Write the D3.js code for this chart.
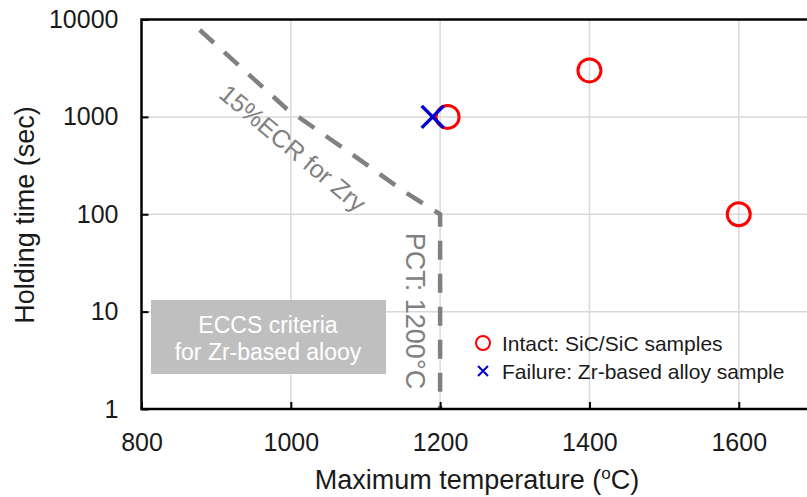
<!DOCTYPE html>
<html>
<head>
<meta charset="utf-8">
<script src="https://cdn.jsdelivr.net/npm/d3@7"></script>
<style>
	body { margin: 0; background: #fff; }
	svg { display: block; font-family: "Liberation Sans", Arial, sans-serif; }
</style>
</head>
<body>
<svg id="chart" width="807" height="497"></svg>
<script>
var xTicks = [800, 1000, 1200, 1400, 1600];
var yTicks = [1, 10, 100, 1000, 10000];

// intact SiC/SiC samples
var intactTemp = [1210, 1400, 1600];
var intactTime = [1000, 3000, 100];

// failed Zr-based alloy sample
var failTemp = [1190];
var failTime = [1000];

// ECCS criteria: 15%ECR curve then PCT 1200 C
var ecrTemp = [878, 995, 1070, 1150, 1200, 1200];
var ecrTime = [7800, 1200, 480, 175, 100, 1];

(function () {
	var svg = d3.select('#chart');
	var left = 141.5, top = 19.5, bottom = 409, right = 813.4;

	var x = d3.scaleLinear().domain([800, 1700]).range([left, right]);
	var y = d3.scaleLog().domain([1, 10000]).range([bottom, top]);

	// grid
	svg.append('g').selectAll('line')
		.data(xTicks.slice(1))
		.enter().append('line')
		.attr('x1', function (d) { return x(d); })
		.attr('x2', function (d) { return x(d); })
		.attr('y1', top).attr('y2', bottom)
		.attr('stroke', '#d9d9d9').attr('stroke-width', 1.5);
	svg.append('g').selectAll('line')
		.data(yTicks.slice(1, -1))
		.enter().append('line')
		.attr('y1', function (d) { return y(d); })
		.attr('y2', function (d) { return y(d); })
		.attr('x1', left).attr('x2', right)
		.attr('stroke', '#d9d9d9').attr('stroke-width', 1.5);

	// ECCS box
	svg.append('rect')
		.attr('x', 151).attr('y', 300).attr('width', 235).attr('height', 74)
		.attr('fill', '#bfbfbf');
	svg.append('text')
		.attr('x', 268).attr('y', 325)
		.attr('text-anchor', 'middle').attr('dominant-baseline', 'central')
		.attr('fill', '#fff').attr('font-size', 23)
		.text('ECCS criteria');
	svg.append('text')
		.attr('x', 268).attr('y', 352)
		.attr('text-anchor', 'middle').attr('dominant-baseline', 'central')
		.attr('fill', '#fff').attr('font-size', 23)
		.text('for Zr-based alooy');

	// criteria line
	var line = d3.line()
		.x(function (d) { return x(d[0]); })
		.y(function (d) { return y(d[1]); });
	svg.append('path')
		.datum(d3.zip(ecrTemp, ecrTime))
		.attr('d', line)
		.attr('fill', 'none')
		.attr('stroke', '#808080')
		.attr('stroke-width', 4.5)
		.attr('stroke-dasharray', '19,14');

	svg.append('text')
		.attr('transform', 'translate(293,148) rotate(40)')
		.attr('text-anchor', 'middle').attr('dominant-baseline', 'central')
		.attr('fill', '#808080').attr('font-size', 25)
		.text('15%ECR for Zry');
	svg.append('text')
		.attr('transform', 'translate(415,311) rotate(90)')
		.attr('text-anchor', 'middle').attr('dominant-baseline', 'central')
		.attr('fill', '#808080').attr('font-size', 27)
		.text('PCT: 1200°C');

	// markers
	svg.append('g').selectAll('circle')
		.data(d3.zip(intactTemp, intactTime))
		.enter().append('circle')
		.attr('cx', function (d) { return x(d[0]); })
		.attr('cy', function (d) { return y(d[1]); })
		.attr('r', 11.5)
		.attr('fill', 'none')
		.attr('stroke', '#ff0000')
		.attr('stroke-width', 3);
	svg.append('g').selectAll('path')
		.data(d3.zip(failTemp, failTime))
		.enter().append('path')
		.attr('d', function (d) {
			var cx = x(d[0]), cy = y(d[1]), s = 11;
			return 'M' + (cx - s) + ',' + (cy - s) + 'L' + (cx + s) + ',' + (cy + s) +
				'M' + (cx - s) + ',' + (cy + s) + 'L' + (cx + s) + ',' + (cy - s);
		})
		.attr('stroke', '#0000cc')
		.attr('stroke-width', 3.5);

	// axes
	var xAxis = svg.append('g')
		.attr('transform', 'translate(0,' + bottom + ')')
		.call(d3.axisBottom(x).tickValues(xTicks).tickSize(-7).tickPadding(24)
			.tickFormat(d3.format('d')));
	var yAxis = svg.append('g')
		.attr('transform', 'translate(' + left + ',0)')
		.call(d3.axisLeft(y).tickValues(yTicks).tickSize(-7).tickPadding(23)
			.tickFormat(d3.format('d')));
	[xAxis, yAxis].forEach(function (g) {
		g.select('.domain').remove();
		g.selectAll('line').attr('stroke', '#000').attr('stroke-width', 2);
		g.selectAll('text').attr('font-size', 25).attr('fill', '#1a1a1a')
			.attr('font-family', '"Liberation Sans", Arial, sans-serif');
	});

	// frame
	svg.append('rect')
		.attr('x', left).attr('y', top)
		.attr('width', right - left).attr('height', bottom - top)
		.attr('fill', 'none').attr('stroke', '#000').attr('stroke-width', 2.5);

	// axis titles
	var xt = svg.append('text')
		.attr('x', 477).attr('y', 489)
		.attr('text-anchor', 'middle')
		.attr('font-size', 27).attr('fill', '#1a1a1a');
	xt.append('tspan').text('Maximum temperature (');
	xt.append('tspan').attr('font-size', 17).attr('dy', -10).text('o');
	xt.append('tspan').attr('dy', 10).text('C)');

	svg.append('text')
		.attr('transform', 'translate(34,215) rotate(-90)')
		.attr('text-anchor', 'middle')
		.attr('font-size', 27).attr('fill', '#1a1a1a')
		.text('Holding time (sec)');

	// legend
	svg.append('circle')
		.attr('cx', 483).attr('cy', 343).attr('r', 7)
		.attr('fill', 'none').attr('stroke', '#ff0000').attr('stroke-width', 2);
	svg.append('path')
		.attr('d', 'M478,366L488,376M478,376L488,366')
		.attr('stroke', '#0000cc').attr('stroke-width', 2);
	svg.append('text')
		.attr('x', 502).attr('y', 343).attr('dominant-baseline', 'central')
		.attr('font-size', 21).attr('fill', '#1a1a1a')
		.text('Intact: SiC/SiC samples');
	svg.append('text')
		.attr('x', 502).attr('y', 371).attr('dominant-baseline', 'central')
		.attr('font-size', 21).attr('fill', '#1a1a1a')
		.text('Failure: Zr-based alloy sample');
}());
</script>
</body>
</html>
